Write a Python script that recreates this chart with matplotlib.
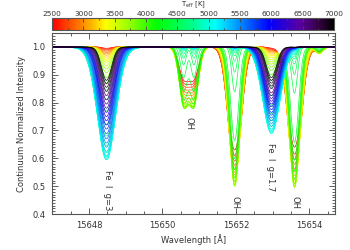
import numpy as np
import matplotlib
matplotlib.use("Agg")
import matplotlib.pyplot as plt
from matplotlib.colors import LinearSegmentedColormap, Normalize
from matplotlib.colorbar import ColorbarBase
from matplotlib.ticker import MultipleLocator, FormatStrFormatter

# --- Data ---
temps = list(range(2500, 7001, 100))  # Teff [K], one curve each

# line centres [A]
fe1_center = 15648.48
oh1_centers = [15650.58, 15650.86]   # blended doublet
oh2_center = 15651.97
fe2_center = 15652.97
oh3_center = 15653.60
oh4_center = 15654.27

# core (minimum) intensity of each line, one value per temperature
fe1_core = [0.995, 0.992, 0.989, 0.985, 0.980, 0.975, 0.970, 0.963, 0.956, 0.950,
            0.943, 0.933, 0.921, 0.907, 0.890, 0.870, 0.845, 0.810, 0.770, 0.720,
            0.680, 0.645, 0.620, 0.605, 0.595, 0.595, 0.600, 0.610, 0.625, 0.640,
            0.655, 0.670, 0.688, 0.705, 0.720, 0.735, 0.750, 0.765, 0.780, 0.795,
            0.810, 0.825, 0.840, 0.855, 0.868, 0.880]
fe2_core = [0.997, 0.995, 0.993, 0.990, 0.987, 0.983, 0.979, 0.974, 0.968, 0.962,
            0.955, 0.947, 0.938, 0.928, 0.916, 0.900, 0.880, 0.855, 0.825, 0.790,
            0.760, 0.735, 0.715, 0.700, 0.690, 0.690, 0.695, 0.705, 0.715, 0.725,
            0.735, 0.745, 0.755, 0.765, 0.775, 0.785, 0.795, 0.805, 0.815, 0.825,
            0.835, 0.850, 0.860, 0.870, 0.880, 0.890]
oh1_core = [0.875, 0.865, 0.855, 0.845, 0.835, 0.825, 0.815, 0.805, 0.798, 0.790,
            0.785, 0.780, 0.778, 0.778, 0.780, 0.785, 0.795, 0.810, 0.840, 0.890,
            0.936, 0.960, 0.975, 0.985, 0.990, 0.993, 0.995, 0.996, 0.997, 0.997,
            0.998, 0.998, 0.998, 0.999, 0.999, 0.999, 0.999, 0.999, 0.999, 0.999,
            0.999, 0.999, 0.999, 0.999, 0.999, 0.999]
oh2_core = [0.630, 0.610, 0.590, 0.575, 0.560, 0.550, 0.540, 0.530, 0.520, 0.510,
            0.505, 0.500, 0.500, 0.505, 0.515, 0.530, 0.560, 0.600, 0.665, 0.840,
            0.910, 0.950, 0.970, 0.980, 0.986, 0.990, 0.993, 0.995, 0.996, 0.997,
            0.997, 0.998, 0.998, 0.998, 0.999, 0.999, 0.999, 0.999, 0.999, 0.999,
            0.999, 0.999, 0.999, 0.999, 0.999, 0.999]
oh3_core = [0.640, 0.615, 0.595, 0.578, 0.562, 0.550, 0.538, 0.527, 0.517, 0.508,
            0.502, 0.497, 0.495, 0.500, 0.510, 0.525, 0.555, 0.595, 0.660, 0.840,
            0.910, 0.950, 0.970, 0.980, 0.986, 0.990, 0.993, 0.995, 0.996, 0.997,
            0.997, 0.998, 0.998, 0.998, 0.999, 0.999, 0.999, 0.999, 0.999, 0.999,
            0.999, 0.999, 0.999, 0.999, 0.999, 0.999]
oh4_core = [0.985, 0.983, 0.981, 0.980, 0.979, 0.978, 0.977, 0.976, 0.976, 0.976,
            0.976, 0.977, 0.978, 0.979, 0.980, 0.982, 0.985, 0.988, 0.992, 0.996,
            0.998, 0.999, 0.999, 1.000, 1.000, 1.000, 1.000, 1.000, 1.000, 1.000,
            1.000, 1.000, 1.000, 1.000, 1.000, 1.000, 1.000, 1.000, 1.000, 1.000,
            1.000, 1.000, 1.000, 1.000, 1.000, 1.000]

labels = ["Fe  I  g=3", "OH", "OH", "Fe  I  g=1.7", "OH"]
label_x = [15648.50, 15650.72, 15651.97, 15652.95, 15653.62]
label_y = [0.485, 0.725, 0.44, 0.57, 0.44]

# --- colours: IDL-like rainbow, red (cool) -> black (hot) ---
cmap = LinearSegmentedColormap.from_list("teff", [
    (0.00, (1.0, 0.0, 0.0)),
    (0.10, (1.0, 0.5, 0.0)),
    (0.19, (1.0, 1.0, 0.0)),
    (0.28, (0.55, 1.0, 0.0)),
    (0.37, (0.0, 1.0, 0.0)),
    (0.50, (0.0, 1.0, 0.55)),
    (0.58, (0.0, 1.0, 1.0)),
    (0.77, (0.0, 0.0, 1.0)),
    (0.88, (0.35, 0.0, 0.63)),
    (0.95, (0.2, 0.0, 0.25)),
    (1.00, (0.0, 0.0, 0.0)),
])
norm = Normalize(2500, 7000)

# centres, widest sigma [A], lorentz fraction, cool-side broadening, cap (steps), cores
lines = [
    ([fe1_center], 0.25, 0.05, 0.4, 5, fe1_core),
    (oh1_centers, 0.12, 0.0, 0.45, 99, oh1_core),
    ([oh2_center], 0.14, 0.0, 0.55, 99, oh2_core),
    ([fe2_center], 0.24, 0.05, 0.4, 5, fe2_core),
    ([oh3_center], 0.14, 0.0, 0.55, 99, oh3_core),
    ([oh4_center], 0.10, 0.0, 0.3, 99, oh4_core),
]


def shape(x, centers, sigma, eta=0.0):
    p = np.zeros_like(x)
    for c in centers:
        g = np.exp(-0.5 * ((x - c) / sigma) ** 2)
        l = 1.0 / (1.0 + ((x - c) / (1.18 * sigma)) ** 2)
        p += (1 - eta) * g + eta * l
    return p / p.max()


wl = np.linspace(15647.0, 15654.7, 2000)

plt.rcParams["font.family"] = "DejaVu Sans"
txt = "#333333"
fig = plt.figure(figsize=(3.5, 2.5), dpi=100)
ax = fig.add_axes([0.149, 0.144, 0.808, 0.724])

for i, t in enumerate(temps):
    spec = np.ones_like(wl)
    for centers, sig, eta, k, cap, core in lines:
        depth = 1.0 - core[i]
        i_deep = int(np.argmin(core))
        frac = depth / (1.0 - core[i_deep])
        # weak lines narrower, cooler-than-peak curves broader
        w = 0.35 + 0.65 * frac
        if i < i_deep:
            w *= 1 + k * min(i_deep - i, cap) / 10
        spec -= depth * shape(wl, centers, sig * w, eta)
    ax.plot(wl, spec, color=cmap(norm(t)), lw=0.5)

for s, x, y in zip(labels, label_x, label_y):
    ax.text(x, y, s, rotation=270, ha="center", va="center", fontsize=6, color=txt)

ax.set_xlim(15647.0, 15654.7)
ax.set_ylim(0.4, 1.05)
ax.xaxis.set_major_locator(MultipleLocator(2))
ax.xaxis.set_minor_locator(MultipleLocator(0.5))
ax.yaxis.set_major_locator(MultipleLocator(0.1))
ax.yaxis.set_minor_locator(MultipleLocator(0.01))
ax.xaxis.set_major_formatter(FormatStrFormatter("%d"))
ax.yaxis.set_major_formatter(FormatStrFormatter("%.1f"))
ax.tick_params(which="both", direction="in", top=True, right=True,
               labelsize=6, colors="#444444", labelcolor=txt, width=0.6)
ax.tick_params(which="major", length=4, pad=5)
ax.tick_params(which="minor", length=2)
for sp in ax.spines.values():
    sp.set_color("#555555")
    sp.set_linewidth(0.8)
ax.set_xlabel("Wavelength [Å]", fontsize=6, color=txt, labelpad=3)
ax.set_ylabel("Continuum Normalized Intensity", fontsize=6, color=txt, labelpad=4)

# colour bar on top
cax = fig.add_axes([0.149, 0.879, 0.805, 0.048])
cb = ColorbarBase(cax, cmap=cmap, norm=norm, orientation="horizontal")
cb.set_ticks(list(range(2500, 7001, 500)))
cax.xaxis.set_minor_locator(MultipleLocator(250))
cax.tick_params(which="both", direction="in", top=True, bottom=True,
                labeltop=True, labelbottom=False, labelsize=5.3,
                colors="#444444", labelcolor=txt, width=0.6, pad=1)
cax.tick_params(which="major", length=3)
cax.tick_params(which="minor", length=1.5)
cb.outline.set_edgecolor("#555555")
cb.outline.set_linewidth(0.8)
fig.text(0.552, 1.0, r"T$_{\rm eff}$ [K]", ha="center", va="top",
         fontsize=5, color=txt)

fig.savefig("out.png", dpi=100)
